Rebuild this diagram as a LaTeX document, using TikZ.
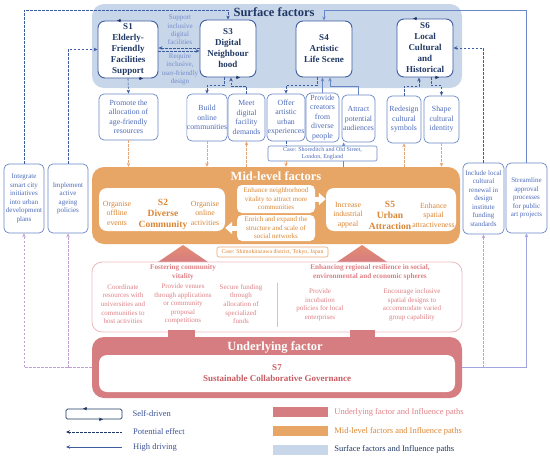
\documentclass[tikz,border=0pt]{standalone}
\usepackage{fontspec}
\setmainfont{Liberation Serif}
\usetikzlibrary{positioning, calc, arrows.meta, shapes.geometric, backgrounds}
\definecolor{navy}{RGB}{32,56,100}
\definecolor{boxblue}{RGB}{62,92,160}
\definecolor{subblue}{RGB}{105,135,200}
\definecolor{subtext}{RGB}{78,108,185}
\definecolor{lbltext}{RGB}{115,140,200}
\definecolor{surf}{RGB}{200,214,234}
\definecolor{mid}{RGB}{231,166,102}
\definecolor{midtext}{RGB}{218,134,52}
\definecolor{midline}{RGB}{232,165,115}
\definecolor{under}{RGB}{213,125,128}
\definecolor{undertext}{RGB}{200,92,98}
\definecolor{pinkline}{RGB}{236,185,190}
\definecolor{pinktext}{RGB}{222,128,134}
\definecolor{lav}{RGB}{190,160,210}
\definecolor{lavblue}{RGB}{160,165,225}
\definecolor{tritop}{RGB}{228,140,112}
\definecolor{legtext}{RGB}{60,82,150}

\begin{document}
\begin{tikzpicture}[x=1pt, y=-1pt, >={Stealth[length=4pt,width=3.5pt]},
    sfac/.style={draw=boxblue, fill=white, line width=0.9pt, rounded corners=7pt, align=center, inner sep=0pt, text=navy, font=\fontsize{9}{11}\selectfont\bfseries},
    act/.style={draw=subblue, fill=white, line width=0.7pt, rounded corners=5pt, align=center, inner sep=0pt, text=subtext, font=\fontsize{7.8}{9.5}\selectfont},
    side/.style={act, font=\fontsize{7}{8.5}\selectfont},
    lbl/.style={align=center, inner sep=0pt, text=lbltext, font=\fontsize{7}{8.4}\selectfont},
    midtxt/.style={align=center, inner sep=0pt, text=midtext, font=\fontsize{7.8}{9.5}\selectfont},
    pitem/.style={align=center, inner sep=0pt, text=pinktext, font=\fontsize{7}{8.6}\selectfont},
    ptitle/.style={align=center, inner sep=0pt, text=pinktext, font=\fontsize{7.2}{9}\selectfont\bfseries},
    band/.style={rounded corners=12pt, inner sep=0pt},
    pot/.style={dashed, dash pattern=on 2.5pt off 1.5pt, line width=0.6pt, draw=boxblue},
    high/.style={line width=0.8pt, draw=subblue}]
    \useasboundingbox (0,0) rectangle (550,459);

    % Surface layer
    \node[band, fill=surf, minimum width=370pt, minimum height=84pt] (surfb) at (277,46) {};
    \node[text=navy, font=\fontsize{12.5}{14}\selectfont\bfseries] (surft) at (274,12) {Surface factors};

    % Mid-level layer
    \shade[top color=tritop, bottom color=under] (158,262) -- (183,245) -- (208,262) -- cycle;
    \shade[top color=tritop, bottom color=under] (337,262) -- (362,245) -- (387,262) -- cycle;
    \node[band, fill=mid, minimum width=368pt, minimum height=77pt] (midb) at (276,205.5) {};
    \node[text=white, font=\fontsize{12.5}{14}\selectfont\bfseries] (midt) at (276,176) {Mid-level factors};

    % Influence box and underlying layer
    \node[draw=pinkline, fill=white, line width=0.8pt, rounded corners=10pt, minimum width=370pt, minimum height=70pt] (infl) at (277,297) {};
    \fill[under] (168,330) rectangle (195,339);
    \fill[under] (350,330) rectangle (375,339);
    \node[band, fill=under, minimum width=370pt, minimum height=61pt] (undb) at (277,367.5) {};
    \node[text=white, font=\fontsize{12.5}{14}\selectfont\bfseries] (undt) at (275,347) {Underlying factor};
    \node[fill=white, rounded corners=8pt, minimum width=356pt, minimum height=37pt, align=center, text=undertext, font=\fontsize{9}{11}\selectfont\bfseries] (s7) at (277,373.5) {S7\\Sustainable Collaborative Governance};

    % Surface factors
    \node[sfac, minimum width=60pt, minimum height=57pt] (s1) at (128,49.5) {S1\\Elderly-\\Friendly\\Facilities\\Support};
    \node[sfac, minimum width=56pt, minimum height=57pt] (s3) at (228,48.5) {S3\\Digital\\Neighbour\\hood};
    \node[sfac, minimum width=56pt, minimum height=56pt] (s4) at (324,49) {S4\\Artistic\\Life Scene};
    \node[sfac, minimum width=56pt, minimum height=58pt] (s6) at (425,48) {S6\\Local\\Cultural\\and\\Historical};
    \node[lbl] (supp) at (180,30) {Support\\inclusive\\digital\\facilities};
    \node[lbl] (req) at (180,69.5) {Require\\inclusive,\\user-friendly\\design};

    % actions below the surface factors
    \node[act, minimum width=59pt, minimum height=46pt] (prom) at (128.5,117) {Promote the\\allocation of\\age-friendly\\resources};
    \node[act, minimum width=40pt, minimum height=47pt] (build) at (207,117.5) {Build\\online\\communities};
    \node[act, minimum width=37pt, minimum height=47pt] (meet) at (246.5,117.5) {Meet\\digital\\facility\\demands};
    \node[act, minimum width=38pt, minimum height=47pt] (offer) at (286,117.5) {Offer\\artistic\\urban\\experiences};
    \node[act, minimum width=33pt, minimum height=49pt] (prov) at (322.5,117.5) {Provide\\creators\\from\\diverse\\people};
    \node[act, minimum width=33pt, minimum height=47pt] (attr) at (358.5,118.5) {Attract\\potential\\audiences};
    \node[act, minimum width=34pt, minimum height=47pt] (redes) at (404,119.5) {Redesign\\cultural\\symbols};
    \node[act, minimum width=35pt, minimum height=47pt] (shape) at (441.5,119.5) {Shape\\cultural\\identity};

    % policy boxes at the sides
    \node[side, minimum width=40pt, minimum height=69pt] (intg) at (24,198.5) {Integrate\\smart city\\initiatives\\into urban\\development\\plans};
    \node[side, minimum width=40pt, minimum height=69pt] (impl) at (68,198.5) {Implement\\active\\ageing\\policies};
    \node[side, minimum width=41pt, minimum height=71pt] (incl) at (483.5,198.5) {Include local\\cultural\\renewal in\\design\\institute\\funding\\standards};
    \node[side, minimum width=41pt, minimum height=70pt] (strm) at (526.5,198) {Streamline\\approval\\processes\\for public\\art projects};

    % self-driven marks
    \draw[navy,->] ($(s1.north)+(-7,0)$) -- ($(s1.north)+(-11,0)$);
    \draw[navy,->] ($(s1.south)+(11,0)$) -- ($(s1.south)+(15,0)$);
    \draw[navy,->] ($(s3.south)+(8,0)$) -- ($(s3.south)+(12,0)$);
    \draw[navy,->] ($(s6.north)+(-8,0)$) -- ($(s6.north)+(-12,0)$);
    \draw[navy,->] ($(s6.south)+(10,0)$) -- ($(s6.south)+(14,0)$);

    % paths among surface factors
    \coordinate (topline) at (0,10);
    \draw[pot,->] ($(s3.west)+(0,-0.5)$) -- ($(s1.east)+(0,-1.5)$);
    \draw[pot,->] ($(s1.east)+(0,1.5)$) -- ($(s3.west)+(0,2.5)$);
    \draw[pot,->] (s1.south) -- (prom.north);
    \draw[pot,->] ($(s3.south)+(-4,0)$) |- ($(build.north)+(0,-8)$) -- (build.north);
    \draw[pot,->] (meet.north) |- ($(s3.south)+(3,9)$) -- ($(s3.south)+(3,0)$);
    \draw[pot,->] ($(s4.south)+(-7,0)$) |- ($(offer.north)+(0,-8)$) -- (offer.north);
    \draw[high,->] (prov.north) -- (prov.north |- s4.south);
    \draw[high,->] (attr.north) |- ($(s4.south)+(6,9)$) -- ($(s4.south)+(6,0)$);
    \draw[pot,->] (redes.north) |- ($(s6.south)+(-6,9)$) -- ($(s6.south)+(-6,0)$);
    \draw[pot,->] ($(s6.south)+(6,0)$) |- ($(shape.north)+(0,-10)$) -- (shape.north);

    % side policies
    \draw[pot,->] (intg.north) |- (s3.north |- topline) -- (s3.north);
    \draw[pot,->] (impl.north) |- (s1.west);
    \draw[high,->] (strm.north) |- (s4.north |- topline) -- (s4.north);
    \draw[pot,->] (incl.north) |- (s6.east);
    \draw[pot,draw=lav,->] (undb.west) -| (intg.south);
    \draw[pot,draw=lav,->] (undb.west -| impl.south) -- (impl.south);
    \draw[high,draw=lavblue,->] (undb.east) -| (strm.south);
    \draw[pot,draw=lav,->] (undb.east -| incl.south) -- (incl.south);

    % paths to the mid-level factors
    \draw[pot,draw=midline,->] (prom.south) -- (prom.south |- midb.north);
    \draw[pot,draw=midline,->] (build.south) -- (build.south |- midb.north);
    \draw[pot,draw=midline,->] (meet.south |- midb.north) -- (meet.south);
    \draw[pot,draw=midline,->] (redes.south |- midb.north) -- (redes.south);
    \draw[pot,draw=midline,->] (shape.south) -- (shape.south |- midb.north);
    \coordinate (attrin) at ($(attr.south west)+(2,0)$);
    \draw[high,->] (attrin |- midb.north) -- (attrin);
    \node[draw=subblue, fill=white, line width=0.6pt, rounded corners=2pt, minimum width=109pt, minimum height=15pt, inner sep=0pt, align=center, text=subtext, font=\fontsize{6}{7}\selectfont] (caseA) at (322.5,153.5) {Case: Shoreditch and Old Street,\\London, England};
    \draw[pot] (offer.south) -- (offer.south |- caseA.north);
    \draw[pot,draw=midline,->] (offer.south |- caseA.south) -- (offer.south |- midb.north);

    % Mid-level factors
    \node[fill=white, rounded corners=8pt, minimum width=126pt, minimum height=43pt] (s2b) at (162,209.5) {};
    \node[fill=white, rounded corners=8pt, minimum width=130pt, minimum height=43pt] (s5b) at (391,209.5) {};
    \node[midtxt] (offl) at (117,213) {Organise\\offline\\events};
    \node[midtxt, font=\fontsize{9.5}{11}\selectfont\bfseries] (s2) at (163,214) {S2\\Diverse\\Community};
    \node[midtxt] (onl) at (205,213) {Organise\\online\\activities};
    \node[midtxt] (incr) at (348,215) {Increase\\industrial\\appeal};
    \node[midtxt, font=\fontsize{9.5}{11}\selectfont\bfseries] (s5) at (390,215) {S5\\Urban\\Attraction};
    \node[midtxt] (spat) at (433.5,215) {Enhance\\spatial\\attractiveness};
    \node[fill=white, rounded corners=5pt, minimum width=78pt, minimum height=28pt, inner sep=0pt, align=center, text=midtext, font=\fontsize{7}{8.5}\selectfont] (enhn) at (276,199) {Enhance neighborhood\\vitality to attract more\\communities};
    \node[fill=white, rounded corners=5pt, minimum width=78pt, minimum height=26pt, inner sep=0pt, align=center, text=midtext, font=\fontsize{7}{8.5}\selectfont] (enr) at (276,228) {Enrich and expand the\\structure and scale of\\social networks};
    \draw[white, line width=5pt, -{Triangle[length=7pt,width=12pt]}] (enhn.east) -- (s5b.west |- enhn.east);
    \draw[white, line width=5pt, -{Triangle[length=7pt,width=12pt]}] (enr.west) -- (s2b.east |- enr.west);
    \node[draw=midline, fill=white, line width=0.6pt, rounded corners=2pt, minimum width=111pt, minimum height=10pt, inner sep=0pt, text=midtext, font=\fontsize{5.8}{7}\selectfont] (caseB) at (272.5,252) {Case: Shimokitazawa district, Tokyo, Japan};

    % influence paths of the underlying factor
    \node[ptitle] (fost) at (183,272.5) {Fostering community\\vitality};
    \node[ptitle] (enhr) at (370,272.5) {Enhancing regional resilience in social,\\environmental and economic spheres};
    \draw[pinkline, line width=0.8pt] ($(infl.north)+(0,21)$) -- ($(infl.south)+(0,-5)$);
    \node[pitem] (coord) at (123,304) {Coordinate\\resources with\\universities and\\communities to\\host activities};
    \node[pitem] (venue) at (183,304) {Provide venues\\through applications\\or community\\proposal\\competitions};
    \node[pitem] (fund) at (241,304) {Secure funding\\through\\allocation of\\specialized\\funds};
    \node[pitem] (incub) at (320,305) {Provide\\incubation\\policies for local\\enterprises};
    \node[pitem] (incls) at (412,305) {Encourage inclusive\\spatial designs to\\accommodate varied\\group capability};

    % legend
    \node[draw=navy, line width=0.7pt, rounded corners=1.5pt, minimum width=56pt, minimum height=10pt, inner sep=0pt] (legsd) at (94,414) {};
    \draw[navy,->] ($(legsd.north)+(-7,0)$) -- ($(legsd.north)+(-11,0)$);
    \draw[navy,->] ($(legsd.south)+(5,0)$) -- ($(legsd.south)+(9,0)$);
    \node[right=10pt of legsd, inner sep=0pt, text=legtext, font=\fontsize{8.5}{10}\selectfont] (legsdt) {Self-driven};
    \coordinate (legpa) at (66,432);
    \coordinate (legpb) at (122,432);
    \draw[pot,draw=navy,<-] (legpa) -- (legpb);
    \node[right=11pt of legpb, inner sep=0pt, text=legtext, font=\fontsize{8.5}{10}\selectfont] (legpt) {Potential effect};
    \coordinate (legha) at (66,447);
    \coordinate (leghb) at (122,447);
    \draw[line width=0.8pt, draw=boxblue, <-] (legha) -- (leghb);
    \node[right=11pt of leghb, inner sep=0pt, text=legtext, font=\fontsize{8.5}{10}\selectfont] (leght) {High driving};
    \node[fill=under, minimum width=55pt, minimum height=10pt, inner sep=0pt] (legu) at (300.5,412) {};
    \node[right=6pt of legu, inner sep=0pt, text=pinktext, font=\fontsize{8.5}{10}\selectfont] (legut) {Underlying factor and Influence paths};
    \node[fill=mid, minimum width=55pt, minimum height=10pt, inner sep=0pt] (legm) at (300.5,431) {};
    \node[right=6pt of legm, inner sep=0pt, text=midtext, font=\fontsize{8.5}{10}\selectfont] (legmt) {Mid-level factors and Influence paths};
    \node[fill=surf, minimum width=55pt, minimum height=10pt, inner sep=0pt] (legs) at (300.5,449.5) {};
    \node[right=6pt of legs, inner sep=0pt, text=navy, font=\fontsize{8.5}{10}\selectfont] (legst) {Surface factors and Influence paths};
\end{tikzpicture}
\end{document}
